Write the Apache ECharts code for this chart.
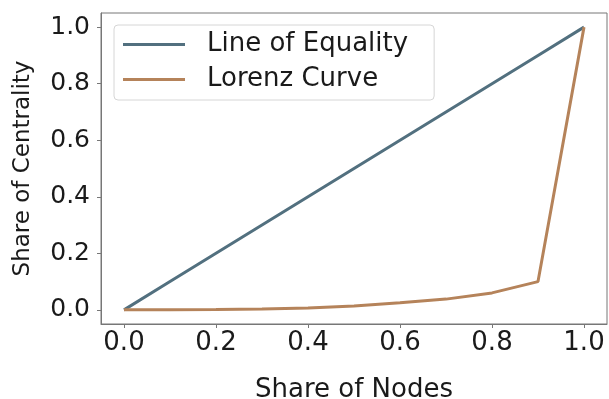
<!DOCTYPE html>
<html>
<head>
<meta charset="utf-8">
<script src="https://cdn.jsdelivr.net/npm/echarts@6/dist/echarts.min.js"></script>
<style>html,body{margin:0;padding:0;background:#fff;}#c{width:609px;height:399px;}</style>
</head>
<body>
<div id="c"></div>
<script>
var nodeShare = [0, 0.1, 0.2, 0.3, 0.4, 0.5, 0.6, 0.7, 0.8, 0.9, 1.0];
var equality = [0, 0.1, 0.2, 0.3, 0.4, 0.5, 0.6, 0.7, 0.8, 0.9, 1.0];
var lorenz = [0, 0, 0.001, 0.003, 0.007, 0.014, 0.025, 0.038, 0.06, 0.10, 1.0];
var tickValues = [0, 0.2, 0.4, 0.6, 0.8, 1.0];
var seriesNames = ['Line of Equality', 'Lorenz Curve'];
var xTitle = 'Share of Nodes';
var yTitle = 'Share of Centrality';

function pairs(xs, ys) { return xs.map(function (x, i) { return [x, ys[i]]; }); }

var font = 'DejaVu Sans';
var txt = '#1a1a1a';
var chart = echarts.init(document.getElementById('c'), null, {renderer: 'canvas'});
chart.setOption({
  animation: false,
  backgroundColor: '#fff',
  textStyle: {fontFamily: font},
  grid: {left: 101, right: 2, top: 13, bottom: 75, show: true, borderColor: '#777', borderWidth: 1,
         containLabel: false, outerBoundsMode: 'none'},
  legend: {
    orient: 'vertical', left: 114, top: 25,
    padding: [5, 26, 6, 9],
    icon: 'rect', itemWidth: 62, itemHeight: 3, itemGap: 6,
    backgroundColor: 'rgba(255,255,255,0.9)', borderColor: '#d6d6d6', borderWidth: 1, borderRadius: 4,
    textStyle: {fontFamily: font, fontSize: 26, color: txt, lineHeight: 29, padding: [0, 0, 0, 17]},
    data: seriesNames
  },
  xAxis: {
    type: 'value', min: -0.05, max: 1.05,
    name: xTitle, nameLocation: 'middle', nameGap: 53,
    nameTextStyle: {fontFamily: font, fontSize: 26, color: txt},
    axisLine: {show: true, onZero: false, lineStyle: {color: '#777', width: 1}},
    axisTick: {show: true, inside: false, length: 4, customValues: tickValues, lineStyle: {color: '#777'}},
    axisLabel: {customValues: tickValues, fontFamily: font, fontSize: 26, color: txt, margin: 6,
      formatter: function (v) { return v.toFixed(1); }},
    splitLine: {show: false}
  },
  yAxis: {
    type: 'value', min: -0.05, max: 1.05,
    name: yTitle, nameLocation: 'middle', nameGap: 66, nameRotate: 90,
    nameTextStyle: {fontFamily: font, fontSize: 23, color: txt},
    axisLine: {show: true, onZero: false, lineStyle: {color: '#777', width: 1}},
    axisTick: {show: true, inside: false, length: 4, customValues: tickValues, lineStyle: {color: '#777'}},
    axisLabel: {customValues: tickValues, fontFamily: font, fontSize: 25, color: txt, margin: 11,
      formatter: function (v) { return v.toFixed(1); }},
    splitLine: {show: false}
  },
  series: [
    {name: seriesNames[0], type: 'line', data: pairs(nodeShare, equality), symbol: 'none',
     lineStyle: {color: '#52707f', width: 3}, itemStyle: {color: '#52707f'}},
    {name: seriesNames[1], type: 'line', data: pairs(nodeShare, lorenz), symbol: 'none',
     lineStyle: {color: '#b5835a', width: 3}, itemStyle: {color: '#b5835a'}}
  ]
});
</script>
</body>
</html>
